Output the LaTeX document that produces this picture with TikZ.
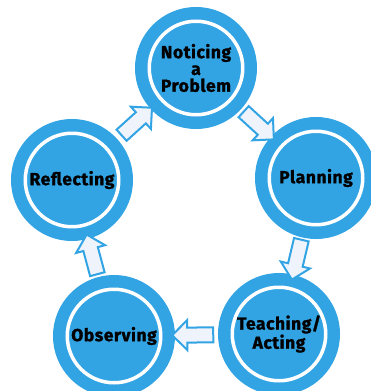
\documentclass[tikz,border=0pt]{standalone}
\usepackage{fontspec}
\setsansfont{Fira Sans}[LetterSpace=3, BoldFeatures={FakeBold=1.2}]
\usetikzlibrary{shapes.arrows}

\definecolor{ringblue}{RGB}{50,164,228}
\definecolor{arrowfill}{RGB}{238,243,252}

\tikzset{
  stage/.style={circle, fill=ringblue, draw=ringblue, line width=12.5pt,
    double=white, double distance=3.5pt, minimum size=93.5pt, inner sep=0pt,
    align=center, font=\sffamily\bfseries\fontsize{17.5}{16.8}\selectfont},
  blockarrow/.style={single arrow, draw=ringblue, fill=arrowfill, line width=2pt,
    minimum height=41pt, inner sep=6.5pt, single arrow head extend=7.5pt,
    single arrow head indent=0pt, sloped, allow upside down}
}

\begin{document}
\begin{tikzpicture}[x=1pt, y=-1pt]
  \useasboundingbox (0,0) rectangle (371,391);

  \node[stage] (notice)  at (196,68)  {Noticing\\a\\Problem};
  \node[stage] (plan)    at (316,178) {Planning};
  \node[stage] (teach)   at (279,334) {Teaching/\\Acting};
  \node[stage] (observe) at (114,336) {Observing};
  \node[stage] (reflect) at (72,180)  {Reflecting};

  % cycle arrows
  \path (notice)  -- node[blockarrow] (a1) {} (plan);
  \path (plan)    -- node[blockarrow] (a2) {} (teach);
  \path (teach)   -- node[blockarrow] (a3) {} (observe);
  \path (observe) -- node[blockarrow] (a4) {} (reflect);
  \path (reflect) -- node[blockarrow] (a5) {} (notice);
\end{tikzpicture}
\end{document}
